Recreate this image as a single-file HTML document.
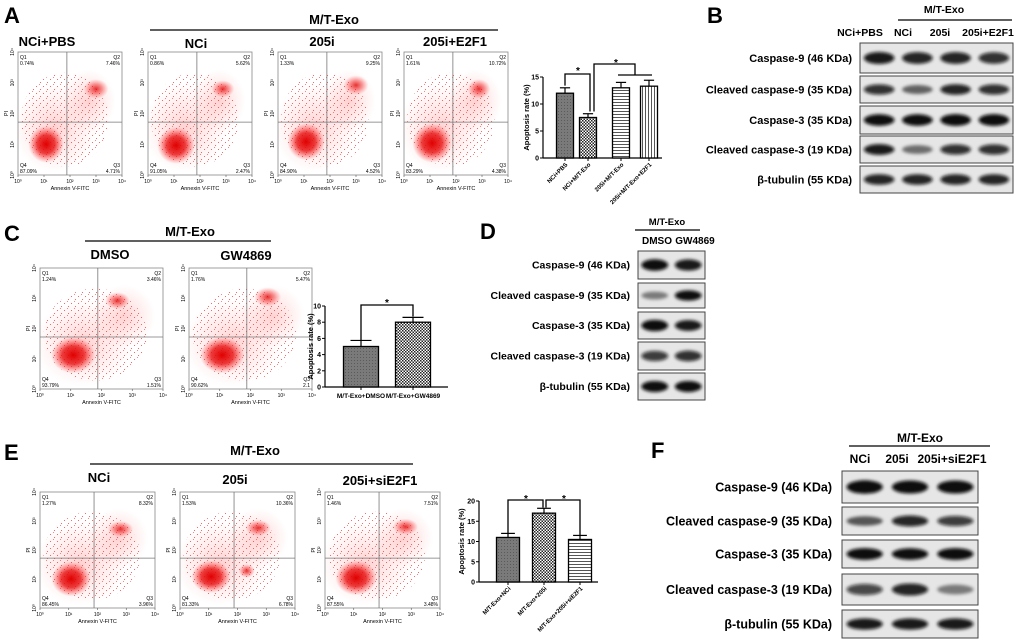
<!DOCTYPE html>
<html><head><meta charset="utf-8"><style>
html,body{margin:0;padding:0;background:#fff;}
svg{display:block;font-family:"Liberation Sans",sans-serif;}
</style></head><body>
<svg id="fig" width="1020" height="644" viewBox="0 0 1020 644" xmlns="http://www.w3.org/2000/svg">
<defs>
<pattern id="pDots" width="3" height="3" patternUnits="userSpaceOnUse"><rect width="3" height="3" fill="#7a7a7a"/><rect width="1" height="1" fill="#5a5a5a"/></pattern>
<pattern id="pCheck" width="3" height="3" patternUnits="userSpaceOnUse"><rect width="3" height="3" fill="#fff"/><rect width="1.5" height="1.5" fill="#222"/><rect x="1.5" y="1.5" width="1.5" height="1.5" fill="#222"/></pattern>
<pattern id="pHor" width="4" height="3" patternUnits="userSpaceOnUse"><rect width="4" height="3" fill="#fff"/><rect width="4" height="0.9" fill="#444"/></pattern>
<pattern id="pVer" width="3" height="4" patternUnits="userSpaceOnUse"><rect width="3" height="4" fill="#fff"/><rect width="0.9" height="4" fill="#444"/></pattern>
<pattern id="pSpeck" width="7" height="7" patternUnits="userSpaceOnUse"><rect x="1" y="2" width="1" height="1" fill="#f00"/><rect x="5" y="5" width="1" height="1" fill="#f00"/><rect x="4" y="0" width="1" height="1" fill="#f33"/></pattern>
<radialGradient id="gCore"><stop offset="0" stop-color="#e00000" stop-opacity="1"/><stop offset="0.5" stop-color="#e81010" stop-opacity="0.8"/><stop offset="1" stop-color="#ff4040" stop-opacity="0"/></radialGradient>
<radialGradient id="gCore2"><stop offset="0" stop-color="#e00000" stop-opacity="0.8"/><stop offset="0.5" stop-color="#f02020" stop-opacity="0.45"/><stop offset="1" stop-color="#ff4040" stop-opacity="0"/></radialGradient>
<radialGradient id="gHaze"><stop offset="0" stop-color="#ff3030" stop-opacity="0.22"/><stop offset="1" stop-color="#ff6060" stop-opacity="0"/></radialGradient>
<filter id="blurB" x="-20%" y="-60%" width="140%" height="220%"><feGaussianBlur stdDeviation="1.5"/></filter>
</defs>
</svg>
<script>
const NS="http://www.w3.org/2000/svg";
const svg=document.getElementById('fig');
function mk(tag,attrs,parent,text){const e=document.createElementNS(NS,tag);for(const k in attrs)e.setAttribute(k,attrs[k]);if(text!==undefined)e.textContent=text;(parent||svg).appendChild(e);return e;}

// ---------- DATA ----------
const barA_categories=["NCi+PBS","NCi+M/T-Exo","205i+M/T-Exo","205i+M/T-Exo+E2F1"];
const barA_values=[12,7.5,13,13.3];
const barA_errors=[1.0,0.7,1.0,1.1];
const barA_ticks=[0,5,10,15];
const barC_categories=["M/T-Exo+DMSO","M/T-Exo+GW4869"];
const barC_values=[5,8];
const barC_errors=[0.75,0.6];
const barC_ticks=[0,2,4,6,8,10];
const barE_categories=["M/T-Exo+NCi","M/T-Exo+205i","M/T-Exo+205i+siE2F1"];
const barE_values=[11,17,10.5];
const barE_errors=[1.0,1.2,1.0];
const barE_ticks=[0,5,10,15,20];
const flowA_quadrants=[["0.74%","7.46%","4.71%","87.09%"],["0.86%","5.62%","2.47%","91.05%"],["1.33%","9.25%","4.52%","84.90%"],["1.61%","10.72%","4.38%","83.29%"]];
const flowC_quadrants=[["1.24%","3.46%","1.51%","93.79%"],["1.76%","5.47%","2.1","90.62%"]];
const flowE_quadrants=[["1.27%","8.32%","3.96%","86.45%"],["1.53%","10.36%","6.78%","81.33%"],["1.46%","7.51%","3.48%","87.55%"]];
const blotB_intensity=[[0.9,0.85,0.85,0.8],[0.8,0.55,0.85,0.8],[0.95,0.95,1,1],[0.9,0.5,0.8,0.8],[0.85,0.85,0.85,0.85]];
const blotD_intensity=[[0.95,0.9],[0.45,0.95],[1,0.9],[0.75,0.8],[0.95,0.95]];
const blotF_intensity=[[1,0.95,0.95],[0.6,0.85,0.75],[1,0.95,1],[0.7,0.85,0.45],[0.9,0.9,0.9]];
const blotLabels=["Caspase-9 (46 KDa)","Cleaved caspase-9 (35 KDa)","Caspase-3 (35 KDa)","Cleaved caspase-3 (19 KDa)","β-tubulin (55 KDa)"];

// ---------- helpers ----------
function txt(x,y,s,size,opts){opts=opts||{};const e=mk('text',{x:x,y:y,'font-size':size,'font-weight':opts.w||'bold','text-anchor':opts.a||'middle',fill:'#000'},opts.p,s);if(opts.rot!==undefined)e.setAttribute('transform',`rotate(${opts.rot} ${x} ${y})`);return e;}
function panelLetter(x,y,s){const e=txt(x,y,s,22,{a:'start'});}
function groupHeader(cx,y,x1,x2,ly,size){const t=txt(cx,y,"M/T-Exo",size||13);const l=mk('line',{x1:x1,x2:x2,y1:ly,y2:ly,stroke:'#000','stroke-width':1.3});}

function flowPlot(name,x,y,w,h,q,clusters){
  const g=mk('g',{});
  const vx=x+w*0.47, hy=y+h*0.57;
  const cp='cp'+name;const c=mk('clipPath',{id:cp},g);mk('rect',{x:x,y:y,width:w,height:h},c);
  const cg=mk('g',{'clip-path':`url(#${cp})`},g);
  mk('ellipse',{cx:x+w*0.35,cy:y+h*0.62,rx:w*0.4,ry:h*0.36,fill:'url(#gHaze)'},cg);
  mk('ellipse',{cx:x+w*0.68,cy:y+h*0.4,rx:w*0.26,ry:h*0.26,fill:'url(#gHaze)'},cg);
  mk('ellipse',{cx:x+w*0.45,cy:y+h*0.55,rx:w*0.42,ry:h*0.38,fill:'url(#pSpeck)',opacity:0.6},cg);
  clusters.forEach((cl,i)=>{mk('ellipse',{cx:x+w*cl[0],cy:y+h*cl[1],rx:w*cl[2],ry:h*cl[3],fill:i===0?'url(#gCore)':'url(#gCore2)'},cg);});
  mk('rect',{x:x,y:y,width:w,height:h,fill:'none',stroke:'#888','stroke-width':0.8},g);
  mk('line',{x1:vx,x2:vx,y1:y,y2:y+h,stroke:'#777','stroke-width':0.8},g);
  mk('line',{x1:x,x2:x+w,y1:hy,y2:hy,stroke:'#777','stroke-width':0.8},g);
  const fs=5;
  txt(x+2,y+7,"Q1",fs,{a:'start',w:'normal',p:g});txt(x+2,y+13,q[0],fs,{a:'start',w:'normal',p:g});
  txt(x+w-2,y+7,"Q2",fs,{a:'end',w:'normal',p:g});txt(x+w-2,y+13,q[1],fs,{a:'end',w:'normal',p:g});
  txt(x+w-2,y+h-8,"Q3",fs,{a:'end',w:'normal',p:g});txt(x+w-2,y+h-2,q[2],fs,{a:'end',w:'normal',p:g});
  txt(x+2,y+h-8,"Q4",fs,{a:'start',w:'normal',p:g});txt(x+2,y+h-2,q[3],fs,{a:'start',w:'normal',p:g});
  for(let i=0;i<5;i++){
    const tx=x+w*i/4;txt(tx,y+h+8,"10"+["⁰","¹","²","³","⁴"][i],5,{w:'normal',p:g});
    mk('line',{x1:tx,x2:tx,y1:y+h,y2:y+h+2,stroke:'#555','stroke-width':0.6},g);
    const ty=y+h-h*i/4;txt(x-4,ty,"10"+["⁰","¹","²","³","⁴"][i],5,{w:'normal',p:g,rot:-90});
  }
  txt(x+w/2,y+h+15,"Annexin V-FITC",5.5,{w:'normal',p:g});
  txt(x-10,y+h/2,"PI",5.5,{w:'normal',p:g,rot:-90});
}

function barChart(name,o){
  const g=mk('g',{});
  const sy=v=>o.y0-(v/o.max)*(o.y0-o.yTop);
  mk('line',{x1:o.ax,x2:o.ax,y1:sy(o.max),y2:o.y0,stroke:'#000','stroke-width':1.2},g);
  mk('line',{x1:o.ax,x2:o.axEnd,y1:o.y0,y2:o.y0,stroke:'#000','stroke-width':1.2},g);
  o.ticks.forEach(t=>{mk('line',{x1:o.ax-3,x2:o.ax,y1:sy(t),y2:sy(t),stroke:'#000','stroke-width':1},g);txt(o.ax-4,sy(t)+2.5,String(t),7,{a:'end',p:g});});
  const yt=txt(o.titleX,(sy(o.max)+o.y0)/2,"Apoptosis rate (%)",7.5,{p:g,rot:-90});
  
  o.values.forEach((v,i)=>{
    const cx=o.centers[i],bw=o.bw;
    const r=mk('rect',{x:cx-bw/2,y:sy(v),width:bw,height:o.y0-sy(v),fill:`url(#${o.pats[i]})`,stroke:'#000','stroke-width':1.3},g);
    
    
    const et=sy(v+o.errs[i]);
    mk('line',{x1:cx,x2:cx,y1:sy(v),y2:et,stroke:'#000','stroke-width':1.2},g);
    mk('line',{x1:cx-bw*0.3,x2:cx+bw*0.3,y1:et,y2:et,stroke:'#000','stroke-width':1.2},g);
    mk('line',{x1:cx,x2:cx,y1:o.y0,y2:o.y0+3,stroke:'#000','stroke-width':1},g);
    let lab;
    if(o.rot) lab=txt(cx+3,o.y0+7,o.cats[i],6,{a:'end',p:g,rot:-45});
    else lab=txt(cx,o.y0+11,o.cats[i],6.5,{p:g});
    
  });
  return {g:g,sy:sy};
}
function bracket(g,pts,star){mk('polyline',{points:pts.map(p=>p.join(',')).join(' '),fill:'none',stroke:'#000','stroke-width':1.3},g);const s=txt(star[0],star[1],"*",10,{p:g});}

function blot(name,x,w,rows,intens,labelX,labelSize){
  const g=mk('g',{});
  const n=intens[0].length;
  rows.forEach((r,ri)=>{
    const [y1,y2]=r;
    mk('rect',{x:x,y:y1,width:w,height:y2-y1,fill:'#e6e6e6',stroke:'#444','stroke-width':1},g);
    const cy=(y1+y2)/2,lw=w/n;
    intens[ri].forEach((v,ci)=>{
      const b=mk('ellipse',{cx:x+lw*(ci+0.5),cy:cy,rx:lw*0.4,ry:(y2-y1)*0.19*(0.6+v*0.5),fill:'#0a0a0a','fill-opacity':Math.min(1,v*1.05),filter:'url(#blurB)'},g);
      
    });
    const l=txt(labelX,cy+labelSize*0.35,blotLabels[ri],labelSize,{a:'end',p:g});
    
  });
}

// ---------- Panel A ----------
panelLetter(4,23,"A");
groupHeader(334,24,150,498,30,13);
[["NCi+PBS",47,46],["NCi",196,48],["205i",322,46],["205i+E2F1",455,46]].forEach(t=>{const e=txt(t[1],t[2],t[0],13);});
const clustersA=[[[0.27,0.75,0.17,0.15],[0.75,0.3,0.12,0.08]],[[0.27,0.76,0.18,0.15],[0.72,0.3,0.11,0.07]],[[0.27,0.73,0.18,0.15],[0.75,0.27,0.12,0.08]],[[0.27,0.74,0.19,0.16],[0.72,0.3,0.11,0.08]]];
[18,148,278,404].forEach((x,i)=>flowPlot('flow-a-'+(i+1),x,52,104,123,flowA_quadrants[i],clustersA[i]));
const bA=barChart('bar-chart-a',{ax:543,axEnd:662,y0:158,yTop:77,max:15,ticks:barA_ticks,values:barA_values,errs:barA_errors,cats:barA_categories,centers:[565,588,621,649],bw:17,pats:['pDots','pCheck','pHor','pVer'],rot:true,titleX:529});
bracket(bA.g,[[565,bA.sy(13.4)],[565,74],[590,74],[590,bA.sy(8.6)]],[578,74]);
bracket(bA.g,[[594,bA.sy(8.6)],[594,64],[635,64],[635,75]],[616,66]);
mk('line',{x1:618,x2:652,y1:75,y2:75,stroke:'#000','stroke-width':1.3},bA.g);

// ---------- Panel B ----------
panelLetter(707,23,"B");
groupHeader(944,13,898,1012,20,10.5);
[["NCi+PBS",860],["NCi",903],["205i",940],["205i+E2F1",988]].forEach(t=>{const e=txt(t[1],36,t[0],10.5);});
blot('western-blot-b',860,153,[[43,73],[76,103],[106,134],[136,163],[166,193]],blotB_intensity,852,11);

// ---------- Panel C ----------
panelLetter(4,241,"C");
groupHeader(190,236,85,271,241,13);
[["DMSO",110,259],["GW4869",246,260]].forEach(t=>{const e=txt(t[1],t[2],t[0],13);});
const clustersC=[[[0.27,0.72,0.18,0.15],[0.63,0.27,0.1,0.07]],[[0.27,0.72,0.18,0.15],[0.64,0.24,0.11,0.08]]];
[40,189].forEach((x,i)=>flowPlot('flow-c-'+(i+1),x,268,123,121,flowC_quadrants[i],clustersC[i]));
const bC=barChart('bar-chart-c',{ax:325,axEnd:448,y0:387,yTop:306,max:10,ticks:barC_ticks,values:barC_values,errs:barC_errors,cats:barC_categories,centers:[361,413],bw:35,pats:['pDots','pCheck'],rot:false,titleX:313});
bracket(bC.g,[[361,bC.sy(5.8)],[361,305],[413,305],[413,bC.sy(8.7)]],[387,306]);

// ---------- Panel D ----------
panelLetter(480,239,"D");
groupHeader(667,225,635,700,230,9.5);
[["DMSO",657],["GW4869",695]].forEach(t=>{const e=txt(t[1],244,t[0],10);});
blot('western-blot-d',638,67,[[251,279],[283,308],[312,339],[342,370],[373,400]],blotD_intensity,630,10.5);

// ---------- Panel E ----------
panelLetter(4,460,"E");
groupHeader(255,455,90,413,464,13);
[["NCi",99,482],["205i",235,484],["205i+siE2F1",380,485]].forEach(t=>{const e=txt(t[1],t[2],t[0],13);});
const clustersE=[[[0.27,0.75,0.17,0.15],[0.7,0.32,0.11,0.07]],[[0.27,0.73,0.17,0.14],[0.68,0.31,0.11,0.07],[0.58,0.68,0.07,0.06]],[[0.27,0.74,0.18,0.15],[0.7,0.3,0.11,0.07]]];
[40,180,325].forEach((x,i)=>flowPlot('flow-e-'+(i+1),x,492,115,116,flowE_quadrants[i],clustersE[i]));
const bE=barChart('bar-chart-e',{ax:479,axEnd:598,y0:582,yTop:501,max:20,ticks:barE_ticks,values:barE_values,errs:barE_errors,cats:barE_categories,centers:[508,544,580],bw:23,pats:['pDots','pCheck','pHor'],rot:true,titleX:464});
bracket(bE.g,[[508,bE.sy(12)],[508,500],[543,500],[543,bE.sy(18.4)]],[526,502]);
bracket(bE.g,[[546,bE.sy(18.4)],[546,500],[580,500],[580,bE.sy(11.5)]],[564,502]);

// ---------- Panel F ----------
panelLetter(651,458,"F");
groupHeader(920,442,849,990,446,12);
[["NCi",860],["205i",897],["205i+siE2F1",952]].forEach(t=>{const e=txt(t[1],463,t[0],12);});
blot('western-blot-f',842,136,[[471,503],[507,535],[540,568],[574,605],[610,638]],blotF_intensity,832,12.5);
</script>
</body></html>
